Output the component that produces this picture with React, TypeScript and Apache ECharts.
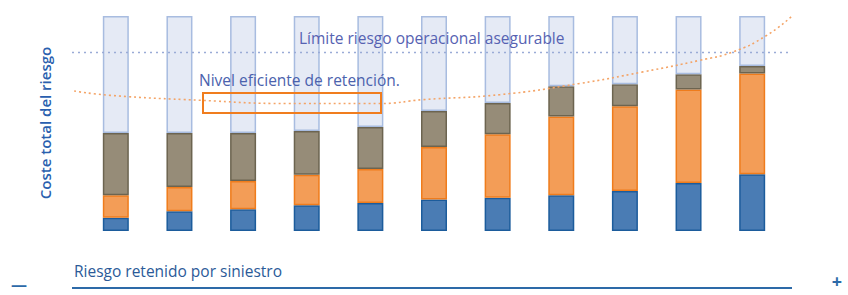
import React, { useEffect, useRef } from "react";
import * as echarts from "echarts";

const categories = ["1", "2", "3", "4", "5", "6", "7", "8", "9", "10", "11"];
const costeRetenido = [6.2, 9.2, 10.1, 12.0, 13.0, 14.7, 15.5, 16.6, 18.6, 22.3, 26.4];
const costeTransferido = [10.4, 11.3, 13.2, 14.2, 15.8, 24.4, 29.5, 36.7, 39.4, 43.5, 46.8];
const costeGestion = [29.0, 25.1, 22.3, 20.3, 19.6, 16.7, 14.5, 14.0, 10.2, 7.1, 3.5];
const margenHastaLimite = [54.4, 54.4, 54.4, 53.5, 51.6, 44.2, 40.5, 32.7, 31.8, 27.1, 23.3];

const curvaX = [0.3, 5.3, 17.8, 29.9, 42.8, 48.8, 59.4, 70.3, 79.3, 87.2, 91.8, 96.5, 100];
const curvaY = [65.1, 63.1, 60.8, 59.3, 59.3, 61.1, 63.4, 68.5, 74.0, 79.4, 83.3, 91.0, 100];
const limiteX = [0, 100];
const limiteY = [83.0, 83.0];

const FONT = "'Open Sans'";

export default function App() {
  const ref = useRef<HTMLDivElement>(null);
  useEffect(() => {
    document.body.style.margin = "0";
    const chart = echarts.init(ref.current!, null, { renderer: "svg" });
    const barStyle = (fill: string, border: string) => ({
      color: fill,
      borderColor: border,
      borderWidth: 1.5,
    });
    chart.setOption({
      animation: false,
      grid: [
        { left: 84, right: 64, top: 16, bottom: 64 },
        { left: 72, right: 56, top: 16, bottom: 64 },
      ],
      xAxis: [
        { type: "category", data: categories, gridIndex: 0, show: false },
        { type: "value", min: 0, max: 100, gridIndex: 1, show: false },
      ],
      yAxis: [
        { type: "value", min: 0, max: 100, gridIndex: 0, show: false },
        { type: "value", min: 0, max: 100, gridIndex: 1, show: false },
      ],
      series: [
        {
          name: "Coste retenido",
          type: "bar",
          stack: "t",
          barWidth: 26,
          data: costeRetenido,
          itemStyle: barStyle("#4a7cb4", "#1c5c9c"),
        },
        {
          name: "Coste transferido",
          type: "bar",
          stack: "t",
          barWidth: 26,
          data: costeTransferido,
          itemStyle: barStyle("#f39d57", "#ef7c1c"),
        },
        {
          name: "Coste de gestión",
          type: "bar",
          stack: "t",
          barWidth: 26,
          data: costeGestion,
          itemStyle: barStyle("#968c78", "#6c6450"),
        },
        {
          name: "Margen",
          type: "bar",
          stack: "t",
          barWidth: 26,
          data: margenHastaLimite,
          itemStyle: barStyle("#e5eaf5", "#a8bce0"),
        },
        {
          name: "Límite",
          type: "line",
          xAxisIndex: 1,
          yAxisIndex: 1,
          z: 5,
          data: limiteX.map((x, i) => [x, limiteY[i]]),
          symbol: "none",
          lineStyle: { color: "#9aabd6", width: 1.6, type: [2, 4] },
        },
        {
          name: "Curva",
          type: "line",
          xAxisIndex: 1,
          yAxisIndex: 1,
          z: 5,
          smooth: true,
          data: curvaX.map((x, i) => [x, curvaY[i]]),
          symbol: "none",
          lineStyle: { color: "#f4a467", width: 1.6, type: [2, 3] },
        },
      ],
      graphic: [
        {
          type: "text",
          z: 100,
          x: 299,
          y: 38,
          style: {
            text: "Límite riesgo operacional asegurable",
            fill: "#5662b2",
            font: `15.5px ${FONT}`,
            verticalAlign: "middle",
          },
        },
        {
          type: "text",
          z: 100,
          x: 199,
          y: 80,
          style: {
            text: "Nivel eficiente de retención.",
            fill: "#4b62ad",
            font: `15.5px ${FONT}`,
            verticalAlign: "middle",
          },
        },
        {
          type: "rect",
          z: 100,
          shape: { x: 203, y: 93, width: 178, height: 20 },
          style: { fill: "none", stroke: "#f07d1e", lineWidth: 2 },
        },
        {
          type: "text",
          z: 100,
          x: 45,
          y: 123,
          rotation: Math.PI / 2,
          style: {
            text: "Coste total del riesgo",
            fill: "#2a5fae",
            font: `600 15px ${FONT}`,
            align: "center",
            verticalAlign: "middle",
          },
        },
        {
          type: "text",
          z: 100,
          x: 74,
          y: 271,
          style: {
            text: "Riesgo retenido por siniestro",
            fill: "#2b5a98",
            font: `15.5px ${FONT}`,
            verticalAlign: "middle",
          },
        },
        {
          type: "line",
          z: 100,
          shape: { x1: 72, y1: 288, x2: 792, y2: 288 },
          style: { stroke: "#2d6aa8", lineWidth: 2 },
        },
        {
          type: "text",
          z: 100,
          x: 19,
          y: 284,
          style: {
            text: "—",
            fill: "#2d6aa8",
            font: `bold 16px ${FONT}`,
            align: "center",
            verticalAlign: "middle",
          },
        },
        {
          type: "text",
          z: 100,
          x: 837,
          y: 281,
          style: {
            text: "+",
            fill: "#2d6aa8",
            font: `bold 18px ${FONT}`,
            align: "center",
            verticalAlign: "middle",
          },
        },
      ],
    });
    return () => chart.dispose();
  }, []);
  return <div ref={ref} style={{ width: 848, height: 295 }} />;
}
